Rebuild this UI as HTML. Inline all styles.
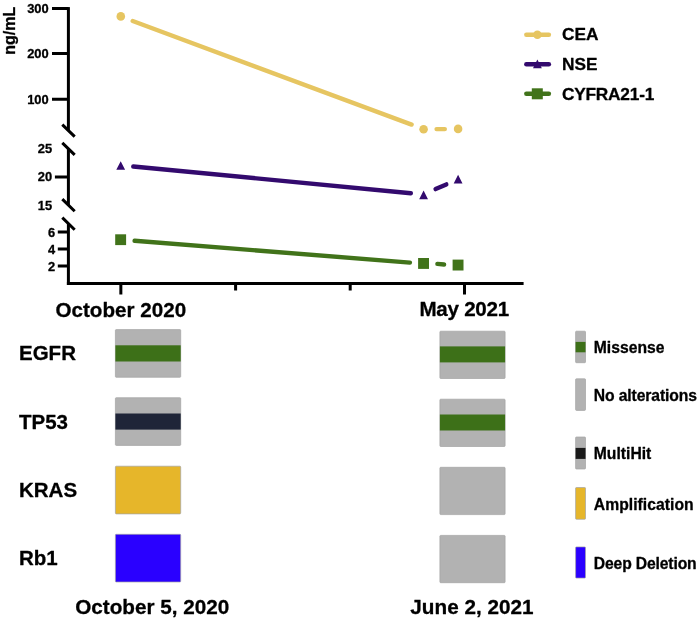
<!DOCTYPE html>
<html><head><meta charset="utf-8"><title>Tumor markers</title>
<style>
html,body{margin:0;padding:0;background:#fff;}
svg{display:block;}
text{font-family:"Liberation Sans",sans-serif;font-weight:bold;fill:#000;stroke:#000;stroke-width:0.3px;stroke-linejoin:round;}
</style></head><body>
<svg width="699" height="620" viewBox="0 0 699 620">
<rect width="699" height="620" fill="#fff"/>
<!-- axes -->
<g stroke="#000" stroke-width="3" fill="none" stroke-linecap="butt">
  <path d="M68.4 7.1 V130.6"/>
  <path d="M68.4 148.9 V205.2"/>
  <path d="M68.4 223.7 V285"/>
  <path d="M66.9 283.4 H523.6"/>
  <!-- y ticks -->
  <path d="M52 8.6 H68.4 M52 53.6 H68.4 M52 99.3 H68.4"/>
  <path d="M54.9 177 H68.4"/>
  <path d="M57.8 232.1 H68.4 M57.8 249.1 H68.4 M57.8 266.1 H68.4"/>
  <!-- x ticks -->
  <path d="M120.85 283 V294.4 M235.6 283 V290.6 M350.2 283 V290.6 M464.5 283 V294.4"/>
  <!-- breaks -->
  <path d="M62.3 124.6 L74.7 136.6 M62.3 142.9 L74.7 154.9 M62.3 199.1 L74.7 211.3 M62.3 217.6 L74.7 229.8"/>
</g>
<!-- y labels -->
<g font-size="12.9" text-anchor="end">
  <text x="48.7" y="13.3">300</text>
  <text x="48.7" y="58.3">200</text>
  <text x="48.7" y="104">100</text>
  <text x="52.2" y="153.4">25</text>
  <text x="52.2" y="181.4">20</text>
  <text x="52.2" y="209.5">15</text>
  <text x="55.2" y="236.7">6</text>
  <text x="55.2" y="253.7">4</text>
  <text x="55.2" y="270.7">2</text>
</g>
<text font-size="16" transform="translate(15.0,54.7) rotate(-90)">ng/mL</text>
<!-- x labels -->
<g font-size="20.6" text-anchor="middle">
  <text x="120.8" y="316.6" textLength="130.8">October 2020</text>
  <text x="464.3" y="316.4" textLength="89.6">May 2021</text>
</g>
<!-- CEA -->
<g stroke="#e6c561" stroke-width="4.4" stroke-linecap="round" fill="#e6c561">
  <path d="M132.7 21 L411.6 124.6"/>
  <path d="M436.6 129.1 H444.8"/>
  <circle cx="120.8" cy="16.4" r="4.3" stroke="none"/>
  <circle cx="423.6" cy="129.3" r="4.3" stroke="none"/>
  <circle cx="458.1" cy="128.9" r="4.3" stroke="none"/>
</g>
<!-- NSE -->
<g stroke="#330a6e" stroke-width="4.4" stroke-linecap="round" fill="#330a6e">
  <path d="M133.3 166.5 L410.8 193.2"/>
  <path d="M435.6 189.1 L446.3 184.4"/>
  <path d="M120.7 161.2 l4.4 8.6 h-8.8z M423.6 190.6 l4.4 8.6 h-8.8z M458.1 174.8 l4.4 8.6 h-8.8z" stroke="none"/>
</g>
<!-- CYFRA -->
<g stroke="#41731a" stroke-width="4.4" stroke-linecap="round" fill="#41731a">
  <path d="M134.6 240.8 L409.9 262.6"/>
  <path d="M437.4 263.9 L444.1 264.5"/>
  <rect x="115.2" y="234.3" width="10.9" height="10.8" stroke="none"/>
  <rect x="418.1" y="258" width="10.9" height="10.9" stroke="none"/>
  <rect x="452.6" y="259.6" width="10.9" height="10.9" stroke="none"/>
</g>
<!-- legend top -->
<g stroke-width="4.4" stroke-linecap="round">
  <path d="M526.3 34.8 H548.9" stroke="#e6c561"/>
  <circle cx="537.4" cy="34.8" r="4.3" fill="#e6c561"/>
  <path d="M526.3 64.2 H548.9" stroke="#330a6e"/>
  <path d="M537.4 59.6 l4.4 8.6 h-8.8z" fill="#330a6e"/>
  <path d="M526.3 93.8 H548.9" stroke="#41731a"/>
  <rect x="531.8" y="88.3" width="11" height="11" fill="#41731a"/>
</g>
<g font-size="17.3">
  <text x="562" y="39.7">CEA</text>
  <text x="562" y="69.5">NSE</text>
  <text x="562" y="99.5" textLength="92.3">CYFRA21-1</text>
</g>
<!-- gene labels -->
<g font-size="20.5">
  <text x="19" y="360">EGFR</text>
  <text x="19" y="428.5">TP53</text>
  <text x="19" y="497.3">KRAS</text>
  <text x="19" y="565.2">Rb1</text>
</g>
<g font-size="20.7" text-anchor="middle">
  <text x="152.2" y="613.8">October 5, 2020</text>
  <text x="471.9" y="613.8">June 2, 2021</text>
</g>
<!-- boxes -->
<g stroke="#a4a4a4" stroke-width="0.7">
  <rect x="115.4" y="329.6" width="65.3" height="47.7" rx="0.8" fill="#b2b2b2"/>
  <rect x="115.4" y="397.7" width="65.3" height="47.7" rx="0.8" fill="#b2b2b2"/>
  <rect x="115.4" y="466.2" width="65.3" height="47.7" rx="0.8" fill="#e6b62a"/>
  <rect x="115.4" y="534.3" width="65.3" height="47.7" rx="0.8" fill="#2a00ff"/>
  <rect x="439.9" y="331.2" width="65.2" height="47.3" rx="0.8" fill="#b2b2b2"/>
  <rect x="439.9" y="399.2" width="65.2" height="47.3" rx="0.8" fill="#b2b2b2"/>
  <rect x="439.9" y="467.3" width="65.2" height="47.3" rx="0.8" fill="#b2b2b2"/>
  <rect x="439.9" y="535.4" width="65.2" height="47.3" rx="0.8" fill="#b2b2b2"/>
</g>
<rect x="115.4" y="345.3" width="65.3" height="16.2" fill="#3d7018"/>
<rect x="115.4" y="413.5" width="65.3" height="16.1" fill="#1f2538"/>
<rect x="439.9" y="346.4" width="65.2" height="16" fill="#3d7018"/>
<rect x="439.9" y="414.5" width="65.2" height="16" fill="#3d7018"/>
<!-- legend bottom -->
<g stroke="#a4a4a4" stroke-width="0.7">
  <rect x="575.6" y="331.2" width="9.9" height="31.5" rx="0.8" fill="#b2b2b2"/>
  <rect x="575.6" y="378.8" width="9.9" height="31.6" rx="0.8" fill="#b2b2b2"/>
  <rect x="575.6" y="437" width="9.9" height="32" rx="0.8" fill="#b2b2b2"/>
  <rect x="575.6" y="487.5" width="9.9" height="31.8" rx="0.8" fill="#e6b62a"/>
  <rect x="575.6" y="546.9" width="9.9" height="31.2" rx="0.8" fill="#2a00ff"/>
</g>
<rect x="575.6" y="341.9" width="9.9" height="10.4" fill="#3d7018"/>
<rect x="575.6" y="447.9" width="9.9" height="11" fill="#1a1a1a"/>
<g font-size="15.7">
  <text x="593.8" y="352.7">Missense</text>
  <text x="593.8" y="400.7" textLength="103.2">No alterations</text>
  <text x="593.8" y="459.4">MultiHit</text>
  <text x="593.8" y="510" textLength="99.8">Amplification</text>
  <text x="593.8" y="568.9" textLength="102.9">Deep Deletion</text>
</g>
</svg>
</body></html>
